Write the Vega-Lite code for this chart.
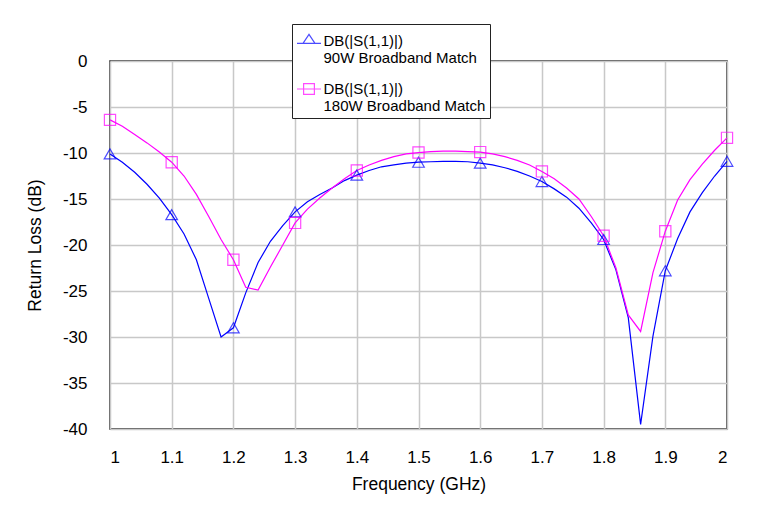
{
  "$schema": "https://vega.github.io/schema/vega-lite/v6.json",
  "width": 617,
  "height": 368,
  "autosize": "none",
  "padding": {"left": 110, "top": 61, "right": 32, "bottom": 83},
  "background": "white",
  "config": {
    "font": "Liberation Sans",
    "view": {"stroke": "#222222", "strokeWidth": 1.5},
    "axis": {
      "grid": true, "gridColor": "#c8c8c8", "gridWidth": 1.5, "domain": false,
      "ticks": false, "tickSize": 0, "labelColor": "#000000", "titleColor": "#000000",
      "labelFontSize": 17, "titleFontSize": 17.5, "titleFontWeight": "normal",
      "labelFont": "Liberation Sans", "titleFont": "Liberation Sans"
    },
    "legend": {
      "orient": "none", "legendX": 182, "legendY": -37,
      "fillColor": "white", "strokeColor": "#222222", "padding": 4,
      "labelFontSize": 15, "labelFont": "Liberation Sans", "labelColor": "#000000",
      "labelOffset": 1.5, "labelLimit": 400,
      "symbolSize": 576, "symbolStrokeWidth": 1.2, "rowPadding": 10
    }
  },
  "data": {"values": [
    {"s": "90W Broadband Match", "f": 1.00, "db": -10.1},
    {"s": "90W Broadband Match", "f": 1.02, "db": -11.0},
    {"s": "90W Broadband Match", "f": 1.04, "db": -12.1},
    {"s": "90W Broadband Match", "f": 1.06, "db": -13.4},
    {"s": "90W Broadband Match", "f": 1.08, "db": -14.9},
    {"s": "90W Broadband Match", "f": 1.10, "db": -16.7},
    {"s": "90W Broadband Match", "f": 1.12, "db": -18.8},
    {"s": "90W Broadband Match", "f": 1.14, "db": -21.6},
    {"s": "90W Broadband Match", "f": 1.16, "db": -25.8},
    {"s": "90W Broadband Match", "f": 1.18, "db": -30.0},
    {"s": "90W Broadband Match", "f": 1.20, "db": -29.0},
    {"s": "90W Broadband Match", "f": 1.22, "db": -25.2},
    {"s": "90W Broadband Match", "f": 1.24, "db": -21.9},
    {"s": "90W Broadband Match", "f": 1.26, "db": -19.6},
    {"s": "90W Broadband Match", "f": 1.28, "db": -17.9},
    {"s": "90W Broadband Match", "f": 1.30, "db": -16.4},
    {"s": "90W Broadband Match", "f": 1.32, "db": -15.3},
    {"s": "90W Broadband Match", "f": 1.34, "db": -14.5},
    {"s": "90W Broadband Match", "f": 1.36, "db": -13.8},
    {"s": "90W Broadband Match", "f": 1.38, "db": -13.0},
    {"s": "90W Broadband Match", "f": 1.40, "db": -12.4},
    {"s": "90W Broadband Match", "f": 1.42, "db": -11.9},
    {"s": "90W Broadband Match", "f": 1.44, "db": -11.5},
    {"s": "90W Broadband Match", "f": 1.46, "db": -11.3},
    {"s": "90W Broadband Match", "f": 1.48, "db": -11.1},
    {"s": "90W Broadband Match", "f": 1.50, "db": -11.0},
    {"s": "90W Broadband Match", "f": 1.52, "db": -10.95},
    {"s": "90W Broadband Match", "f": 1.54, "db": -10.9},
    {"s": "90W Broadband Match", "f": 1.56, "db": -10.9},
    {"s": "90W Broadband Match", "f": 1.58, "db": -10.95},
    {"s": "90W Broadband Match", "f": 1.60, "db": -11.1},
    {"s": "90W Broadband Match", "f": 1.62, "db": -11.3},
    {"s": "90W Broadband Match", "f": 1.64, "db": -11.6},
    {"s": "90W Broadband Match", "f": 1.66, "db": -12.0},
    {"s": "90W Broadband Match", "f": 1.68, "db": -12.5},
    {"s": "90W Broadband Match", "f": 1.70, "db": -13.1},
    {"s": "90W Broadband Match", "f": 1.72, "db": -13.9},
    {"s": "90W Broadband Match", "f": 1.74, "db": -14.8},
    {"s": "90W Broadband Match", "f": 1.76, "db": -16.0},
    {"s": "90W Broadband Match", "f": 1.78, "db": -17.6},
    {"s": "90W Broadband Match", "f": 1.80, "db": -19.4},
    {"s": "90W Broadband Match", "f": 1.82, "db": -22.7},
    {"s": "90W Broadband Match", "f": 1.84, "db": -27.9},
    {"s": "90W Broadband Match", "f": 1.86, "db": -39.5},
    {"s": "90W Broadband Match", "f": 1.88, "db": -29.9},
    {"s": "90W Broadband Match", "f": 1.90, "db": -22.8},
    {"s": "90W Broadband Match", "f": 1.92, "db": -19.3},
    {"s": "90W Broadband Match", "f": 1.94, "db": -16.4},
    {"s": "90W Broadband Match", "f": 1.96, "db": -14.3},
    {"s": "90W Broadband Match", "f": 1.98, "db": -12.5},
    {"s": "90W Broadband Match", "f": 2.00, "db": -10.9},
    {"s": "180W Broadband Match", "f": 1.00, "db": -6.4},
    {"s": "180W Broadband Match", "f": 1.02, "db": -7.1},
    {"s": "180W Broadband Match", "f": 1.04, "db": -8.0},
    {"s": "180W Broadband Match", "f": 1.06, "db": -8.9},
    {"s": "180W Broadband Match", "f": 1.08, "db": -9.9},
    {"s": "180W Broadband Match", "f": 1.10, "db": -11.0},
    {"s": "180W Broadband Match", "f": 1.12, "db": -12.5},
    {"s": "180W Broadband Match", "f": 1.14, "db": -14.5},
    {"s": "180W Broadband Match", "f": 1.16, "db": -16.9},
    {"s": "180W Broadband Match", "f": 1.18, "db": -19.4},
    {"s": "180W Broadband Match", "f": 1.20, "db": -21.6},
    {"s": "180W Broadband Match", "f": 1.22, "db": -24.6},
    {"s": "180W Broadband Match", "f": 1.24, "db": -24.9},
    {"s": "180W Broadband Match", "f": 1.26, "db": -22.4},
    {"s": "180W Broadband Match", "f": 1.28, "db": -20.0},
    {"s": "180W Broadband Match", "f": 1.30, "db": -17.6},
    {"s": "180W Broadband Match", "f": 1.32, "db": -16.1},
    {"s": "180W Broadband Match", "f": 1.34, "db": -14.9},
    {"s": "180W Broadband Match", "f": 1.36, "db": -13.8},
    {"s": "180W Broadband Match", "f": 1.38, "db": -12.8},
    {"s": "180W Broadband Match", "f": 1.40, "db": -11.9},
    {"s": "180W Broadband Match", "f": 1.42, "db": -11.3},
    {"s": "180W Broadband Match", "f": 1.44, "db": -10.8},
    {"s": "180W Broadband Match", "f": 1.46, "db": -10.4},
    {"s": "180W Broadband Match", "f": 1.48, "db": -10.1},
    {"s": "180W Broadband Match", "f": 1.50, "db": -9.95},
    {"s": "180W Broadband Match", "f": 1.52, "db": -9.85},
    {"s": "180W Broadband Match", "f": 1.54, "db": -9.8},
    {"s": "180W Broadband Match", "f": 1.56, "db": -9.8},
    {"s": "180W Broadband Match", "f": 1.58, "db": -9.85},
    {"s": "180W Broadband Match", "f": 1.60, "db": -9.9},
    {"s": "180W Broadband Match", "f": 1.62, "db": -10.1},
    {"s": "180W Broadband Match", "f": 1.64, "db": -10.4},
    {"s": "180W Broadband Match", "f": 1.66, "db": -10.8},
    {"s": "180W Broadband Match", "f": 1.68, "db": -11.3},
    {"s": "180W Broadband Match", "f": 1.70, "db": -12.0},
    {"s": "180W Broadband Match", "f": 1.72, "db": -12.8},
    {"s": "180W Broadband Match", "f": 1.74, "db": -13.8},
    {"s": "180W Broadband Match", "f": 1.76, "db": -15.0},
    {"s": "180W Broadband Match", "f": 1.78, "db": -16.9},
    {"s": "180W Broadband Match", "f": 1.80, "db": -19.0},
    {"s": "180W Broadband Match", "f": 1.82, "db": -22.5},
    {"s": "180W Broadband Match", "f": 1.84, "db": -27.6},
    {"s": "180W Broadband Match", "f": 1.86, "db": -29.4},
    {"s": "180W Broadband Match", "f": 1.88, "db": -23.0},
    {"s": "180W Broadband Match", "f": 1.90, "db": -18.5},
    {"s": "180W Broadband Match", "f": 1.92, "db": -15.1},
    {"s": "180W Broadband Match", "f": 1.94, "db": -12.9},
    {"s": "180W Broadband Match", "f": 1.96, "db": -11.2},
    {"s": "180W Broadband Match", "f": 1.98, "db": -9.7},
    {"s": "180W Broadband Match", "f": 2.00, "db": -8.35}
  ]},
  "encoding": {
    "x": {
      "field": "f", "type": "quantitative",
      "scale": {"domain": [1, 2], "nice": false, "zero": false},
      "axis": {"title": "Frequency (GHz)", "values": [1, 1.1, 1.2, 1.3, 1.4, 1.5, 1.6, 1.7, 1.8, 1.9, 2],
               "labelExpr": "'' + datum.value", "labelPadding": 20, "titlePadding": 10}
    },
    "y": {
      "field": "db", "type": "quantitative",
      "scale": {"domain": [-40, 0], "nice": false, "zero": false},
      "axis": {"title": "Return Loss (dB)", "values": [-40, -35, -30, -25, -20, -15, -10, -5, 0],
               "labelExpr": "'' + datum.value", "labelPadding": 23, "titlePadding": 18}
    },
    "color": {
      "field": "s", "type": "nominal",
      "scale": {"domain": ["90W Broadband Match", "180W Broadband Match"], "range": ["#0000ff", "#ff00ff"]},
      "legend": {"title": null, "labelExpr": "['DB(|S(1,1)|)', datum.label]"}
    }
  },
  "layer": [
    {"mark": {"type": "line", "strokeWidth": 1.2}},
    {
      "transform": [
        {"filter": "datum.s === '90W Broadband Match'"},
        {"filter": "abs(round(datum.f * 10) - datum.f * 10) < 0.001"}
      ],
      "mark": {"type": "point", "shape": "triangle-up", "filled": false, "size": 135, "strokeWidth": 1.2}
    },
    {
      "transform": [
        {"filter": "datum.s === '180W Broadband Match'"},
        {"filter": "abs(round(datum.f * 10) - datum.f * 10) < 0.001"}
      ],
      "mark": {"type": "point", "shape": "square", "filled": false, "size": 125, "strokeWidth": 1.2}
    },
    {
      "transform": [{"filter": "datum.f > 5"}],
      "mark": {"type": "point", "filled": false, "strokeWidth": 1.2},
      "encoding": {
        "shape": {"field": "s", "type": "nominal",
                  "scale": {"domain": ["90W Broadband Match", "180W Broadband Match"],
                            "range": ["M-1,0.2H1M-0.5,0.2L0,-0.55L0.5,0.2Z", "M-1,0H1M-0.45,-0.45H0.45V0.45H-0.45Z"]},
                  "legend": {"title": null, "labelExpr": "['DB(|S(1,1)|)', datum.label]"}}
      }
    }
  ]
}
